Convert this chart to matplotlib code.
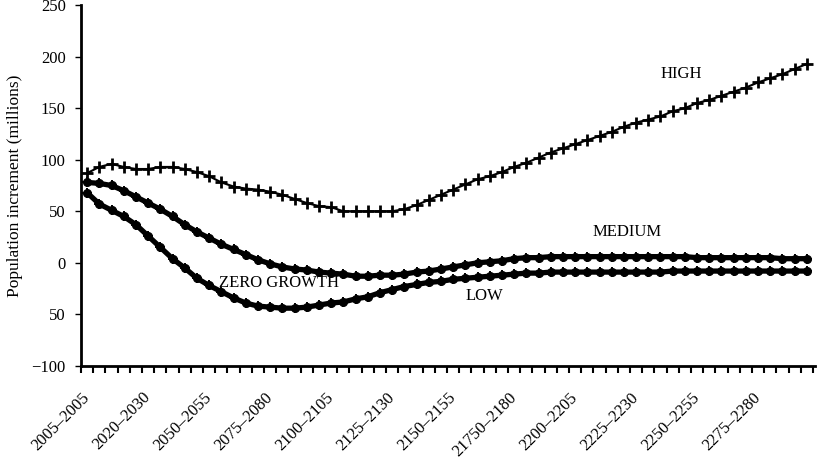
import numpy as np
import matplotlib
matplotlib.use("Agg")
import matplotlib.pyplot as plt

plt.rcParams['font.family'] = ['Liberation Serif', 'DejaVu Serif']

# period labels (every 5th category gets a label)
periods = ["2005\u20132005", "2020\u20132030", "2050\u20132055", "2075\u20132080",
           "2100\u20132105", "2125\u20132130", "2150\u20132155", "21750\u20132180",
           "2200\u20132205", "2225\u20132230", "2250\u20132255", "2275\u20132280"]
n_periods = 60

high = [87, 93, 96, 93, 91, 91, 93, 93, 91, 88,
        84, 78, 74, 72, 71, 69, 66, 62, 58, 55,
        54, 50, 50, 50, 50, 50, 52, 56, 61, 66,
        71, 76, 81, 84, 88, 93, 97, 102, 107, 111,
        115, 119, 123, 127, 132, 136, 139, 142, 147, 150,
        155, 158, 162, 166, 170, 175, 179, 183, 188, 193]

medium = [78, 77, 75, 70, 64, 58, 52, 45, 37, 30,
          24, 18, 13, 8, 3, -1, -4, -6, -7, -9,
          -10, -11, -13, -13, -12, -12, -11, -9, -8, -6,
          -4, -2, 0, 1, 2, 4, 5, 5, 6, 6,
          6, 6, 6, 6, 6, 6, 6, 6, 6, 6,
          5, 5, 5, 5, 5, 5, 5, 4, 4, 4]

low = [68, 57, 51, 45, 37, 26, 15, 4, -5, -15,
       -22, -28, -34, -39, -42, -43, -44, -44, -43, -41,
       -39, -38, -35, -33, -29, -26, -23, -21, -19, -18,
       -16, -15, -14, -13, -12, -11, -10, -10, -9, -9,
       -9, -9, -9, -9, -9, -9, -9, -9, -8, -8,
       -8, -8, -8, -8, -8, -8, -8, -8, -8, -8]

yticks = [-100, -50, 0, 50, 100, 150, 200, 250]
ytick_labels = ["\u2212100", "50", "0", "50", "100", "150", "200", "250"]

x = np.arange(n_periods)

fig = plt.figure(figsize=(8.27, 4.62), dpi=100)
ax = fig.add_axes([0.098, 0.208, 0.888, 0.781])

ax.plot(x, high, color='black', lw=1.5, marker='+', ms=9, mew=2.0)
for series in (medium, low):
    ax.plot(x, series, color='black', lw=3.8, marker='o', ms=5.5)
    ax.plot(x, series, color='black', lw=0, marker='+', ms=7, mew=1.4)

ax.set_xlim(-0.5, 59.7)
ax.set_ylim(-100, 250)

ax.set_yticks(yticks)
ax.set_yticklabels(ytick_labels, fontsize=12)
ax.tick_params(axis='y', length=4, width=1, direction='out', pad=7)

# ticks between categories, labels at category centres
ax.set_xticks(np.arange(-0.5, 60, 1))
ax.set_xticklabels([])
ax.tick_params(axis='x', which='major', length=5, width=1.5, direction='out')
ax.set_xticks(np.arange(0, 60, 5), minor=True)
ax.set_xticklabels(periods, minor=True, rotation=45, ha='right', va='center',
                   rotation_mode='anchor', fontsize=12)
ax.tick_params(axis='x', which='minor', length=0, pad=21)

for side in ('top', 'right'):
    ax.spines[side].set_visible(False)
for side in ('left', 'bottom'):
    ax.spines[side].set_linewidth(2)

ax.set_ylabel("Population increment (millions)", fontsize=12.5, labelpad=6)

ax.text(48.7, 183, "HIGH", fontsize=12, ha='center', va='center')
ax.text(44.3, 30, "MEDIUM", fontsize=12, ha='center', va='center')
ax.text(15.7, -20, "ZERO GROWTH", fontsize=12, ha='center', va='center')
ax.text(32.6, -32, "LOW", fontsize=12, ha='center', va='center')

fig.savefig("out.png", dpi=100)
